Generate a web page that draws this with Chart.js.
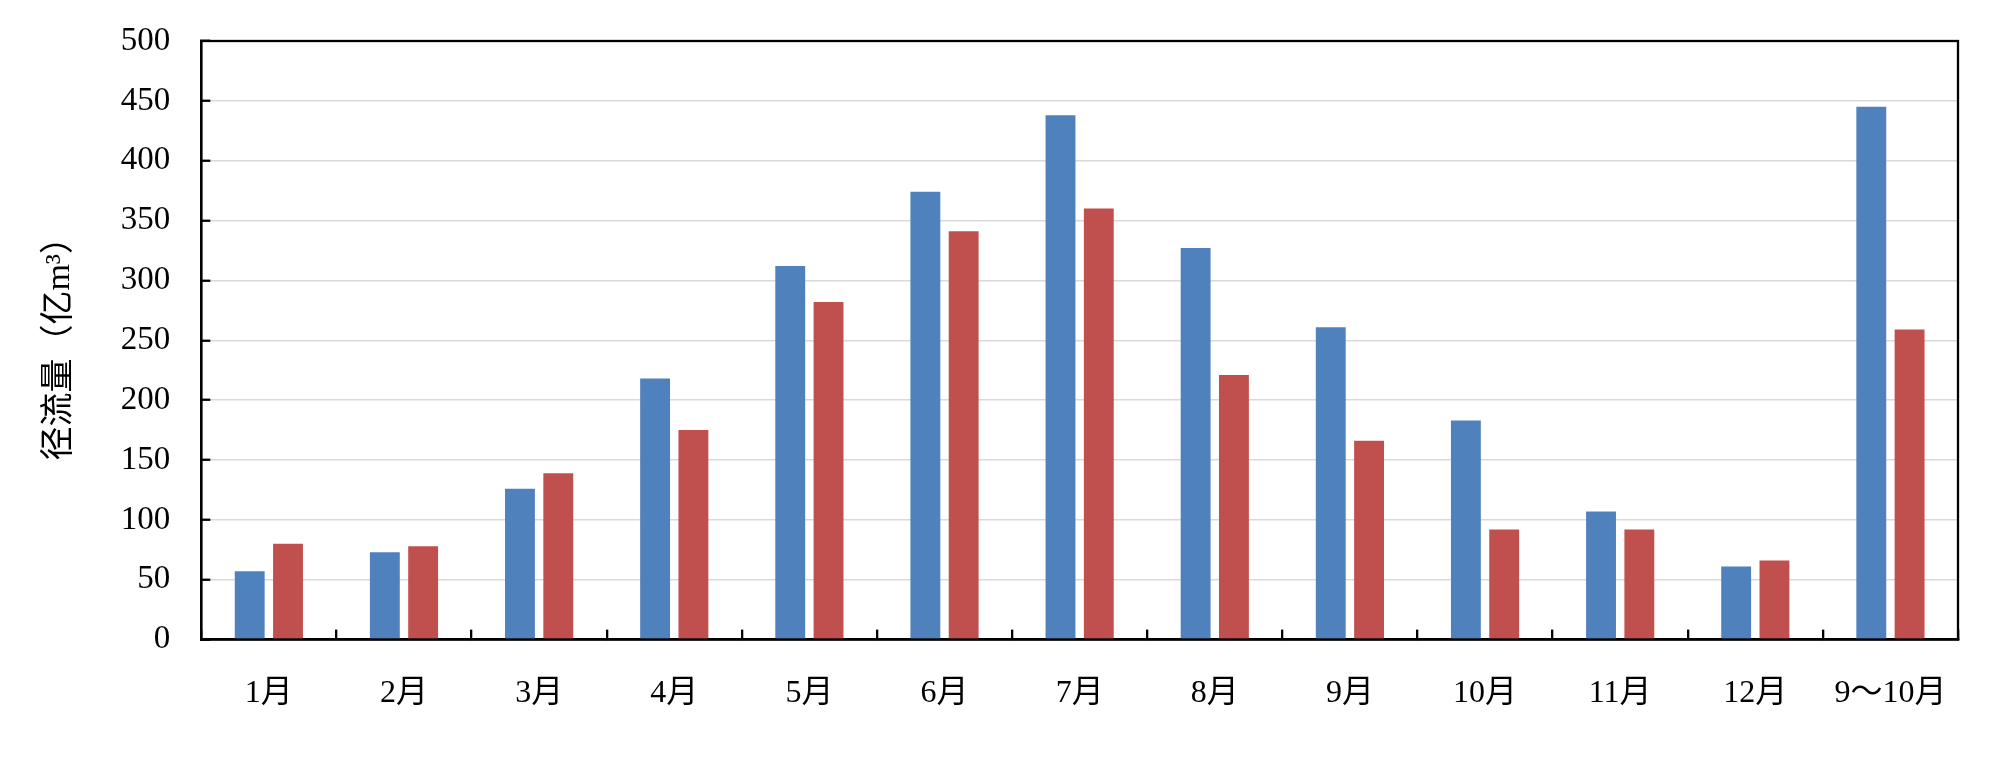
<!DOCTYPE html>
<html>
<head>
<meta charset="utf-8">
<script src="https://cdn.jsdelivr.net/npm/chart.js@4"></script>
<style>
  html, body { margin: 0; padding: 0; background: #fff; }
  #wrap { width: 2000px; height: 760px; }
</style>
</head>
<body>
<div id="wrap"><canvas id="myChart" width="2000" height="760"></canvas></div>
<script>
/* data */
const months = ['1月', '2月', '3月', '4月', '5月', '6月', '7月', '8月', '9月', '10月', '11月', '12月', '9～10月'];
const seriesBlue = [57, 73, 126, 218, 312, 374, 438, 327, 261, 183, 107, 61, 445];
const seriesRed = [80, 78, 139, 175, 282, 341, 360, 221, 166, 92, 92, 66, 259];
const yTicks = [0, 50, 100, 150, 200, 250, 300, 350, 400, 450, 500];
const yTitle = '径流量（亿m³）';

const fontFamily = "'Liberation Serif', 'Noto Sans CJK SC', serif";

/* frame around plot area */
const frame = {
  id: 'frame',
  afterDatasetsDraw(chart) {
    const a = chart.chartArea;
    const c = chart.ctx;
    c.save();
    c.strokeStyle = '#000';
    c.lineWidth = 2.3;
    c.strokeRect(a.left, a.top, a.right - a.left, a.bottom - a.top);
    c.restore();
  }
};

const ctx = document.getElementById('myChart');

new Chart(ctx, {
  type: 'bar',
  data: {
    labels: months,
    datasets: [{
      data: seriesBlue,
      backgroundColor: '#4f81bd',
      barPercentage: 0.78,
      categoryPercentage: 0.567
    }, {
      data: seriesRed,
      backgroundColor: '#c0504d',
      barPercentage: 0.78,
      categoryPercentage: 0.567
    }]
  },
  options: {
    responsive: false,
    animation: false,
    devicePixelRatio: 1,
    layout: {
      padding: { left: 40, right: 42, top: 41, bottom: 2 }
    },
    plugins: {
      legend: { display: false },
      tooltip: { enabled: false }
    },
    scales: {
      x: {
        grid: {
          offset: true,
          drawOnChartArea: false,
          drawTicks: true,
          tickLength: -10,
          color: '#000',
          lineWidth: 2.3
        },
        border: { display: true, color: '#000', width: 2.3 },
        ticks: {
          color: '#000',
          padding: 45,
          font: { family: fontFamily, size: 32 }
        }
      },
      y: {
        min: 0,
        max: 500,
        afterBuildTicks(axis) {
          axis.ticks = yTicks.map(v => ({ value: v }));
        },
        // tick padding should not push the plot area down
        afterFit(axis) {
          axis.paddingTop = 0;
          axis.paddingBottom = 0;
        },
        grid: {
          color: '#d9d9d9',
          lineWidth: 1.5,
          tickColor: '#000',
          tickLength: -9,
          tickWidth: 2.3
        },
        border: { display: true, color: '#000', width: 2.3 },
        ticks: {
          color: '#000',
          padding: 40,
          font: { family: fontFamily, size: 33 }
        },
        title: {
          display: true,
          text: yTitle,
          color: '#000',
          padding: { top: 0, bottom: 0 },
          font: { family: fontFamily, size: 34 }
        }
      }
    }
  },
  plugins: [frame]
});
</script>
</body>
</html>
